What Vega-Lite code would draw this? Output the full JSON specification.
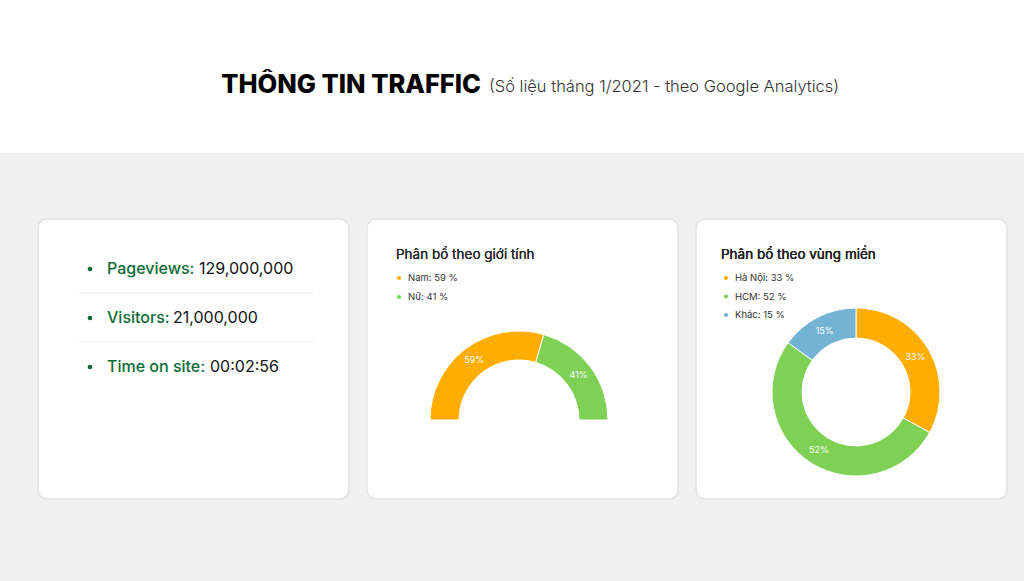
{
  "$schema": "https://vega.github.io/schema/vega-lite/v6.json",
  "background": "#f0f0f0",
  "padding": {"left": 0, "top": 0, "right": 0, "bottom": 83},
  "config": {
    "view": {"stroke": null},
    "font": "Inter",
    "text": {"font": "Inter"}
  },
  "datasets": {
    "stats": [
      {"item": "Pageviews:", "value": "129,000,000"},
      {"item": "Visitors:", "value": "21,000,000"},
      {"item": "Time on site:", "value": "00:02:56"}
    ],
    "gender": [
      {"group": "Nam", "pct": 59},
      {"group": "Nữ", "pct": 41}
    ],
    "region": [
      {"group": "Hà Nội", "pct": 33},
      {"group": "HCM", "pct": 52},
      {"group": "Khác", "pct": 15}
    ]
  },
  "spacing": 65,
  "vconcat": [
    {
      "width": 1024,
      "height": 153,
      "view": {"fill": "white", "stroke": null},
      "data": {"values": [
        {"part": "main", "text": "THÔNG TIN TRAFFIC"},
        {"part": "sub", "text": "(Số liệu tháng 1/2021 - theo Google Analytics)"}
      ]},
      "layer": [
        {
          "transform": [{"filter": "datum.part == 'main'"}],
          "mark": {"type": "text", "align": "right", "baseline": "alphabetic", "fontSize": 25.5, "fontWeight": 800, "color": "#000000", "letterSpacing": -0.7},
          "encoding": {"x": {"value": 481}, "y": {"value": 93}, "text": {"field": "text"}}
        },
        {
          "transform": [{"filter": "datum.part == 'sub'"}],
          "mark": {"type": "text", "align": "left", "baseline": "alphabetic", "fontSize": 16.5, "fontWeight": 300, "color": "#333333"},
          "encoding": {"x": {"value": 489}, "y": {"value": 92}, "text": {"field": "text"}}
        }
      ]
    },
    {
      "spacing": 16,
      "resolve": {"scale": {"color": "independent", "y": "independent"}},
      "hconcat": [
        {
          "width": 21,
          "height": 280,
          "data": {"values": [{}]},
          "mark": {"type": "rect", "opacity": 0},
          "encoding": {}
        },
        {
          "width": 311,
          "height": 280,
          "view": {"fill": "white", "stroke": "#e2e2e2", "strokeWidth": 1.5, "cornerRadius": 9},
          "data": {"name": "stats"},
          "encoding": {
            "y": {"field": "item", "type": "nominal", "scale": {"type": "point", "domain": ["Pageviews:", "Visitors:", "Time on site:"], "range": [50, 148], "padding": 0}, "axis": null}
          },
          "layer": [
            {
              "transform": [{"filter": "datum.item != 'Time on site:'"}],
              "mark": {"type": "rule", "color": "#d9d9d9", "strokeDash": [1, 1], "strokeWidth": 1, "yOffset": 24},
              "encoding": {"x": {"value": 40}, "x2": {"value": 276}}
            },
            {
              "mark": {"type": "circle", "size": 22, "color": "#0b6b37", "opacity": 1},
              "encoding": {"x": {"value": 52}}
            },
            {
              "mark": {"type": "text", "align": "left", "baseline": "middle", "fontSize": 16, "fontWeight": 500, "color": "#0b6b37"},
              "encoding": {"x": {"value": 69}, "text": {"field": "item"}}
            },
            {
              "transform": [{"filter": "datum.item == 'Pageviews:'"}],
              "mark": {"type": "text", "align": "left", "baseline": "middle", "fontSize": 16, "color": "#111111"},
              "encoding": {"x": {"value": 161}, "text": {"field": "value"}}
            },
            {
              "transform": [{"filter": "datum.item == 'Visitors:'"}],
              "mark": {"type": "text", "align": "left", "baseline": "middle", "fontSize": 16, "color": "#111111"},
              "encoding": {"x": {"value": 135}, "text": {"field": "value"}}
            },
            {
              "transform": [{"filter": "datum.item == 'Time on site:'"}],
              "mark": {"type": "text", "align": "left", "baseline": "middle", "fontSize": 16, "color": "#111111"},
              "encoding": {"x": {"value": 172}, "text": {"field": "value"}}
            }
          ]
        },
        {
          "width": 311,
          "height": 280,
          "view": {"fill": "white", "stroke": "#e2e2e2", "strokeWidth": 1.5, "cornerRadius": 9},
          "data": {"name": "gender"},
          "transform": [
            {"window": [{"op": "row_number", "as": "rank"}]},
            {"calculate": "datum.group + ': ' + datum.pct + ' %'", "as": "legendLabel"},
            {"calculate": "datum.pct + '%'", "as": "sliceLabel"}
          ],
          "layer": [
            {
              "mark": {"type": "text", "align": "left", "baseline": "middle", "fontSize": 13.5, "color": "#222222"},
              "encoding": {"x": {"value": 29}, "y": {"value": 36}, "text": {"value": "Phân bổ theo giới tính"}}
            },
            {
              "mark": {"type": "circle", "size": 18, "opacity": 1},
              "encoding": {
                "x": {"value": 32},
                "y": {"field": "group", "type": "nominal", "scale": {"type": "point", "domain": ["Nam", "Nữ"], "range": [59, 78], "padding": 0}, "axis": null},
                "color": {"field": "group", "type": "nominal", "scale": {"domain": ["Nam", "Nữ"], "range": ["#ffad00", "#7ed155"]}, "legend": null}
              }
            },
            {
              "mark": {"type": "text", "align": "left", "baseline": "middle", "fontSize": 9.5, "color": "#333333"},
              "encoding": {
                "x": {"value": 41},
                "y": {"field": "group", "type": "nominal", "axis": null},
                "text": {"field": "legendLabel"}
              }
            },
            {
              "mark": {"type": "arc", "innerRadius": 60, "outerRadius": 89, "stroke": "white", "strokeWidth": 1},
              "encoding": {
                "x": {"value": 152},
                "y": {"value": 201},
                "theta": {"field": "pct", "type": "quantitative", "stack": true, "scale": {"range": [-1.5708, 1.5708]}},
                "order": {"field": "rank", "type": "quantitative"},
                "color": {"field": "group", "type": "nominal", "legend": null}
              }
            },
            {
              "mark": {"type": "text", "radius": 74.5, "fontSize": 9, "color": "white", "align": "center", "baseline": "middle"},
              "encoding": {
                "x": {"value": 152},
                "y": {"value": 201},
                "theta": {"field": "pct", "type": "quantitative", "stack": true},
                "order": {"field": "rank", "type": "quantitative"},
                "text": {"field": "sliceLabel"}
              }
            }
          ]
        },
        {
          "width": 311,
          "height": 280,
          "view": {"fill": "white", "stroke": "#e2e2e2", "strokeWidth": 1.5, "cornerRadius": 9},
          "data": {"name": "region"},
          "transform": [
            {"window": [{"op": "row_number", "as": "rank"}]},
            {"calculate": "datum.group + ': ' + datum.pct + ' %'", "as": "legendLabel"},
            {"calculate": "datum.pct + '%'", "as": "sliceLabel"}
          ],
          "layer": [
            {
              "mark": {"type": "text", "align": "left", "baseline": "middle", "fontSize": 13.5, "color": "#222222"},
              "encoding": {"x": {"value": 25}, "y": {"value": 36}, "text": {"value": "Phân bổ theo vùng miền"}}
            },
            {
              "mark": {"type": "circle", "size": 18, "opacity": 1},
              "encoding": {
                "x": {"value": 30},
                "y": {"field": "group", "type": "nominal", "scale": {"type": "point", "domain": ["Hà Nội", "HCM", "Khác"], "range": [59, 96], "padding": 0}, "axis": null},
                "color": {"field": "group", "type": "nominal", "scale": {"domain": ["Hà Nội", "HCM", "Khác"], "range": ["#ffad00", "#7ed155", "#74b3d4"]}, "legend": null}
              }
            },
            {
              "mark": {"type": "text", "align": "left", "baseline": "middle", "fontSize": 9.5, "color": "#333333"},
              "encoding": {
                "x": {"value": 39},
                "y": {"field": "group", "type": "nominal", "axis": null},
                "text": {"field": "legendLabel"}
              }
            },
            {
              "mark": {"type": "arc", "innerRadius": 54, "outerRadius": 84, "stroke": "white", "strokeWidth": 1},
              "encoding": {
                "x": {"value": 160},
                "y": {"value": 173},
                "theta": {"field": "pct", "type": "quantitative", "stack": true},
                "order": {"field": "rank", "type": "quantitative"},
                "color": {"field": "group", "type": "nominal", "legend": null}
              }
            },
            {
              "mark": {"type": "text", "radius": 69, "fontSize": 9, "color": "white", "align": "center", "baseline": "middle"},
              "encoding": {
                "x": {"value": 160},
                "y": {"value": 173},
                "theta": {"field": "pct", "type": "quantitative", "stack": true},
                "order": {"field": "rank", "type": "quantitative"},
                "text": {"field": "sliceLabel"}
              }
            }
          ]
        }
      ]
    }
  ]
}
